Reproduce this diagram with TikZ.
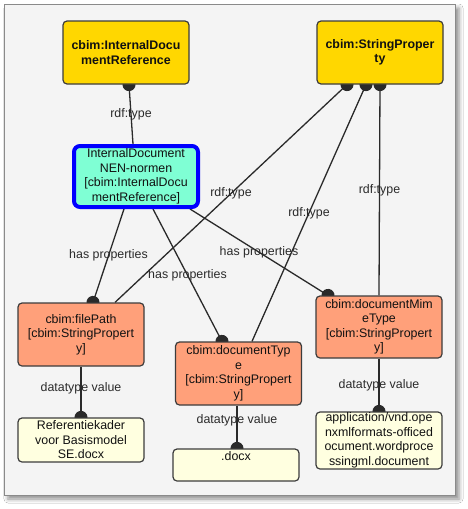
\documentclass[tikz,border=0pt]{standalone}
\usepackage{fontspec}
\setmainfont{Liberation Sans}
\usetikzlibrary{arrows.meta,calc,shadows.blur,backgrounds}
\definecolor{frameBg}{HTML}{F4F4F4}
\definecolor{frameLine}{HTML}{8A8A8A}
\definecolor{clsFill}{HTML}{FFD700}
\definecolor{nenFill}{HTML}{7FFFD4}
\definecolor{nenLine}{HTML}{0000FF}
\definecolor{propFill}{HTML}{FFA07A}
\definecolor{valFill}{HTML}{FFFFE0}
\definecolor{boxLine}{HTML}{3C3C3C}
\definecolor{lineCol}{HTML}{2A2A2A}
\definecolor{textCol}{HTML}{111111}
\definecolor{labelCol}{HTML}{2A2A2A}
\begin{document}
\begin{tikzpicture}[x=1pt,y=-1pt,
  box/.style={draw=boxLine, line width=1.2pt, rounded corners=4pt, inner sep=0pt,
    align=center, text=textCol, minimum width=126pt,
    font=\fontsize{12.4}{14.5}\selectfont},
  cls/.style={box, fill=clsFill, minimum height=63pt,
    font=\bfseries\fontsize{12.4}{14.5}\selectfont},
  inst/.style={box, fill=nenFill, draw=nenLine, line width=4pt, rounded corners=6pt,
    minimum width=124pt, minimum height=61pt},
  prop/.style={box, fill=propFill, minimum height=63pt},
  val/.style={box, fill=valFill},
  link/.style={draw=lineCol, line width=1.3pt, -{Circle[length=13pt,width=13pt]}, shorten >=-6.5pt},
  lbl/.style={font=\fontsize{12.4}{14}\selectfont, text=labelCol, inner sep=0pt}
]
\useasboundingbox (0,0) rectangle (468,509);
\begin{scope}[on background layer]
  \fill[white] (0,0) rectangle (468,509);
  \node[draw=frameLine, fill=frameBg, line width=0.8pt, minimum width=451pt, minimum height=491pt,
    inner sep=0pt, blur shadow={shadow xshift=4pt, shadow yshift=-4pt, shadow blur radius=4pt, shadow opacity=45}]
    (frame) at (229.5,249.5) {};
\end{scope}

\node[cls] (idr) at (126,52.5) {cbim:InternalDocu\\mentReference};
\node[cls] (sp) at (380,52.5) {cbim:StringProper\\ty};
\node[inst] (nen) at (136,176.5) {InternalDocument\\NEN-normen\\{}[cbim:InternalDocu\\mentReference]};
\node[prop] (fp) at (81,334.5) {cbim:filePath\\{}[cbim:StringPropert\\y]};
\node[prop] (dt) at (238.5,373.5) {cbim:documentTyp\\e\\{}[cbim:StringPropert\\y]};
\node[prop, minimum height=62pt] (mm) at (379,327) {cbim:documentMim\\eType\\{}[cbim:StringPropert\\y]};
\node[val, minimum height=44pt] (ref) at (81,440) {Referentiekader\\voor Basismodel\\SE.docx};
\node[val, minimum height=32pt] (docx) at (236,465) {.docx\\\strut};
\node[val, minimum height=57pt] (app) at (379,440.5) {application/vnd.ope\\nxmlformats-officed\\ocument.wordproce\\ssingml.document};

\begin{scope}[on background layer]
  \draw[link] ($(nen.north)+(-3,0)$) -- node[lbl]{rdf:type} ($(idr.south)+(3,0)$);
  \draw[link] ($(fp.north)+(34,0)$) -- node[lbl]{rdf:type} ($(sp.south)+(-33,0)$);
  \draw[link] ($(dt.north)+(13.5,0)$) -- node[lbl]{rdf:type} ($(sp.south)+(-14,0)$);
  \draw[link] (mm.north) -- node[lbl]{rdf:type} ($(sp.south)+(0,0)$);
  \draw[link] ($(nen.south)+(-12,0)$) -- node[lbl]{has properties} ($(fp.north)+(12,0)$);
  \draw[link] ($(nen.south)+(17,0)$) -- node[lbl]{has properties} ($(dt.north)+(-16.5,0)$);
  \draw[link] ($(nen.south east)+(-10,0)$) -- node[lbl]{has properties} ($(mm.north)+(-51,0)$);
  \draw[link] (fp.south) -- node[lbl, pos=0.42]{datatype value} (ref.north);
  \draw[link] ($(dt.south)+(-1.5,0)$) -- node[lbl, pos=0.34]{datatype value} ($(docx.north)+(1,0)$);
  \draw[link] (mm.south) -- node[lbl]{datatype value} (app.north);
\end{scope}
\end{tikzpicture}
\end{document}
